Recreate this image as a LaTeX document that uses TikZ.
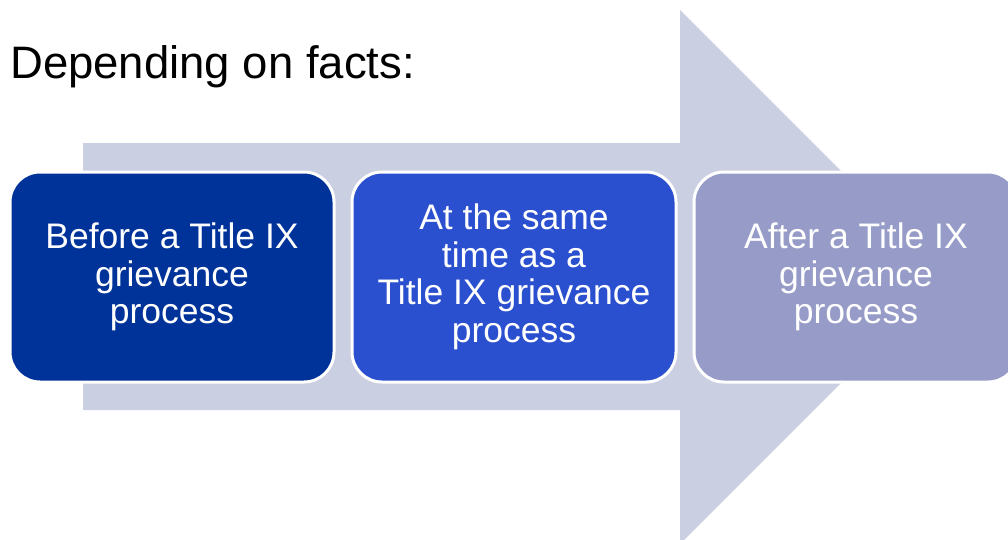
\documentclass[tikz,border=0pt]{standalone}
\usepackage{fontspec}
\setmainfont{Liberation Sans}
\definecolor{arrowgray}{RGB}{203,207,226}
\definecolor{stepdark}{RGB}{0,51,153}
\definecolor{stepmid}{RGB}{43,80,207}
\definecolor{steplight}{RGB}{150,156,199}
\begin{document}
\begin{tikzpicture}[x=1pt,y=-1pt,
    phase/.style={rectangle,draw=white,line width=3pt,rounded corners=30pt,
      minimum width=324pt,minimum height=210pt,text=white,align=center,
      font=\fontsize{35.5}{37.5}\selectfont}]
      \useasboundingbox (0,0) rectangle (1008,539);
      \fill[arrowgray] (83,143) -- (680,143) -- (680,10) -- (947,277)
        -- (680,544) -- (680,410) -- (83,410) -- cycle;
      \draw
        (10,78) node[anchor=base west,inner sep=0pt,font=\fontsize{45.5}{54}\selectfont] (title){Depending on facts:}
        (172,277) node[phase,fill=stepdark] (before){Before a Title IX\\grievance\\process}
        (514,277) node[phase,fill=stepmid] (during){At the same\\time as a\\Title IX grievance\\process}
        (856,277) node[phase,fill=steplight] (after){After a Title IX\\grievance\\process};
    \end{tikzpicture}
\end{document}
